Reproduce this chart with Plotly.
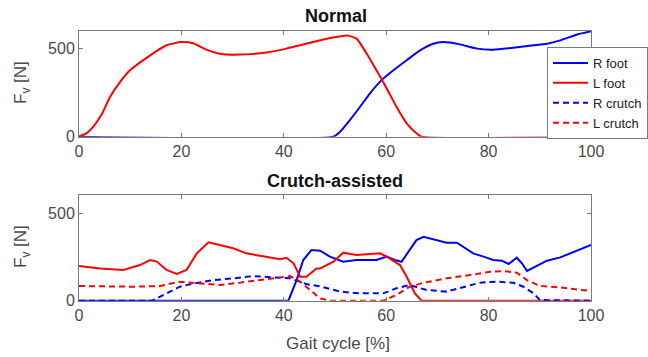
import plotly.graph_objects as go

# ---- Normal gait ----
n_rfoot_x = [0, 49.7, 51, 52.9, 54.9, 56.8, 59.1, 61.4, 64, 66.6, 69.2, 71.1, 74.4, 77.7, 80.9, 84.8, 88.8, 91.4, 94, 97.2, 100]
n_rfoot_y = [0, 0, 28, 94, 170, 245, 321, 377, 434, 490, 528, 537, 524, 500, 494, 505, 519, 528, 547, 579, 598]
n_lfoot_x = [0, 1.5, 2.8, 4.5, 6.05, 8, 9.96, 13.9, 17.1, 20.0, 22.3, 24.9, 27.5, 31.4, 36.6, 40.5, 47.1, 49, 52.3, 54.2, 56.2, 58.1, 60.1, 62.0, 64, 65.9, 66.9, 100]
n_lfoot_y = [0, 20, 57, 130, 226, 310, 377, 462, 519, 537, 530, 494, 471, 466, 478, 500, 547, 560, 575, 557, 471, 377, 274, 170, 76, 19, 0, 0]

# ---- Crutch-assisted gait ----
c_rfoot_x = [0, 40.9, 42.5, 43.8, 45.4, 47.1, 49, 51.6, 54.2, 58.1, 60.1, 61.7, 63, 64.6, 65.9, 67.3, 69.2, 71.8, 73.8, 75.1, 77, 79, 80.9, 82.6, 83.9, 85.5, 86.5, 87.5, 88.8, 91.4, 94, 96.6, 100]
c_rfoot_y = [0, 0, 118, 233, 290, 286, 252, 223, 233, 233, 252, 233, 223, 290, 347, 366, 351, 332, 332, 309, 271, 252, 233, 229, 210, 246, 214, 170, 191, 229, 248, 280, 319]
c_lfoot_x = [0, 4.1, 8.65, 11.9, 13.9, 15.2, 17.1, 19.1, 21, 23, 25.3, 27.5, 30.1, 32.7, 36.6, 39.3, 40.5, 41.9, 43.2, 44.4, 46.4, 47.1, 49.7, 51.6, 54.2, 58.8, 60.1, 62.7, 64, 65.6, 66.9, 100]
c_lfoot_y = [198, 185, 176, 204, 233, 224, 176, 153, 176, 271, 334, 318, 300, 271, 252, 237, 246, 214, 137, 137, 185, 185, 223, 275, 262, 271, 252, 204, 137, 42, 0, 0]
c_rcrutch_x = [0, 14.3, 17.1, 19.7, 22.4, 26.3, 30.1, 34.1, 38, 41.2, 44.4, 47.1, 51, 54.9, 59.4, 62, 64.6, 67.9, 71.8, 75.1, 78.3, 81.6, 84.8, 86.8, 88.8, 90, 100]
c_rcrutch_y = [0, 0, 42, 80, 99, 118, 128, 141, 133, 128, 95, 82, 52, 42, 42, 71, 90, 61, 52, 80, 103, 109, 103, 80, 42, 4, 0]
c_lcrutch_x = [0, 10.6, 15.8, 19.7, 23.6, 27.5, 31.4, 35.4, 39.3, 41.2, 43.2, 45.1, 47.1, 49, 59.4, 62, 64.6, 67.3, 71.8, 76.4, 80.3, 82.9, 85.5, 87.5, 90, 94, 97.2, 99.1, 100]
c_lcrutch_y = [84, 80, 84, 109, 99, 90, 103, 118, 133, 141, 109, 61, 13, 0, 0, 33, 80, 103, 128, 147, 166, 170, 160, 118, 84, 76, 65, 57, 55]

x_ticks = [0, 20, 40, 60, 80, 100]
y_ticks = [0, 500]

BLUE = "#0000ff"
RED = "#ff0000"
DASH = "6px,4px"
FONT = "Liberation Sans, Arial, sans-serif"
GREY = "#7a7a7a"
TXT = "#4a4a4a"

fig = go.Figure()

# top panel
fig.add_trace(go.Scatter(x=n_rfoot_x, y=n_rfoot_y, mode="lines", name="R foot",
                         line=dict(color=BLUE, width=2, shape="spline", smoothing=0.5),
                         xaxis="x", yaxis="y"))
fig.add_trace(go.Scatter(x=n_lfoot_x, y=n_lfoot_y, mode="lines", name="L foot",
                         line=dict(color=RED, width=2, shape="spline", smoothing=0.5),
                         xaxis="x", yaxis="y"))
# legend-only dashed entries
fig.add_trace(go.Scatter(x=[None], y=[None], mode="lines", name="R crutch",
                         line=dict(color=BLUE, width=2, dash=DASH), xaxis="x", yaxis="y"))
fig.add_trace(go.Scatter(x=[None], y=[None], mode="lines", name="L crutch",
                         line=dict(color=RED, width=2, dash=DASH), xaxis="x", yaxis="y"))

# bottom panel
fig.add_trace(go.Scatter(x=c_rfoot_x, y=c_rfoot_y, mode="lines", showlegend=False,
                         line=dict(color=BLUE, width=2), xaxis="x2", yaxis="y2"))
fig.add_trace(go.Scatter(x=c_lfoot_x, y=c_lfoot_y, mode="lines", showlegend=False,
                         line=dict(color=RED, width=2), xaxis="x2", yaxis="y2"))
fig.add_trace(go.Scatter(x=c_rcrutch_x, y=c_rcrutch_y, mode="lines", showlegend=False,
                         line=dict(color=BLUE, width=2, dash=DASH), xaxis="x2", yaxis="y2"))
fig.add_trace(go.Scatter(x=c_lcrutch_x, y=c_lcrutch_y, mode="lines", showlegend=False,
                         line=dict(color=RED, width=2, dash=DASH), xaxis="x2", yaxis="y2"))

W, H = 648, 357
x0, x1 = 79, 591
top_d = [1 - 136.7 / H, 1 - 31 / H]
bot_d = [1 - 300.7 / H, 1 - 195 / H]

axis_common = dict(showline=True, linecolor=GREY, linewidth=1, mirror="ticks",
                   ticks="inside", ticklen=4, tickcolor=GREY, showgrid=False, zeroline=False,
                   tickfont=dict(family=FONT, size=16, color=TXT))


def ann(text, px, py, size, color, bold=False, angle=0):
    return dict(text=f"<b>{text}</b>" if bold else text, x=px / W, y=1 - py / H,
                xref="paper", yref="paper", xanchor="center", yanchor="middle",
                textangle=angle, showarrow=False,
                font=dict(family=FONT, size=size, color=color))


fig.update_layout(
    width=W, height=H,
    margin=dict(l=0, r=0, t=0, b=0, autoexpand=False),
    paper_bgcolor="white", plot_bgcolor="white",
    font=dict(family=FONT, color="#222222"),
    xaxis=dict(domain=[x0 / W, x1 / W], range=[0, 100], tickvals=x_ticks, anchor="y", **axis_common),
    yaxis=dict(domain=top_d, range=[0, 600], tickvals=y_ticks, anchor="x", **axis_common),
    xaxis2=dict(domain=[x0 / W, x1 / W], range=[0, 100], tickvals=x_ticks, anchor="y2", **axis_common),
    yaxis2=dict(domain=bot_d, range=[0, 605], tickvals=y_ticks, anchor="x2", **axis_common),
    legend=dict(x=547 / W, y=1 - 47 / H, xanchor="left", yanchor="top",
                bgcolor="white", bordercolor=GREY, borderwidth=1,
                font=dict(family=FONT, size=13, color="#222222"),
                tracegroupgap=0, itemwidth=35),
    showlegend=True,
    annotations=[
        ann("Normal", 336, 16, 18, "#111111", bold=True),
        ann("Crutch-assisted", 335, 181, 18, "#111111", bold=True),
        ann("Gait cycle [%]", 338, 343, 17, TXT),
        ann("F<sub>v</sub> [N]", 22, 83, 17, TXT, angle=-90),
        ann("F<sub>v</sub> [N]", 22, 247, 17, TXT, angle=-90),
    ],
)

fig.write_html("out.html")
